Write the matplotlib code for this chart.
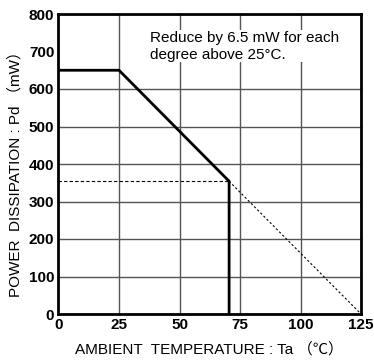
import matplotlib
matplotlib.use("Agg")
import matplotlib.pyplot as plt

# Data
solid_x = [0, 25, 70.5, 70.5]
solid_y = [650, 650, 354, 0]
dash_h_x = [0, 70.5]
dash_h_y = [354, 354]
dash_d_x = [70.5, 125]
dash_d_y = [354, 0]
xticks = [0, 25, 50, 75, 100, 125]
yticks = [0, 100, 200, 300, 400, 500, 600, 700, 800]

plt.rcParams['font.family'] = ['Liberation Sans', 'Noto Sans CJK JP', 'DejaVu Sans']

fig = plt.figure(figsize=(3.74, 3.63), dpi=100)
ax = fig.add_axes([58.5/374, 1 - 314/363, (361 - 58.5)/374, (314 - 14)/363])

ax.set_xlim(0, 125)
ax.set_ylim(0, 800)
ax.set_xticks(xticks)
ax.set_yticks(yticks)
ax.grid(True, color='#555555', linewidth=1.0)
ax.set_axisbelow(True)
# the 700 gridline is not drawn in the reference
ax.yaxis.get_gridlines()[7].set_visible(False)

ax.plot(solid_x, solid_y, color='black', linewidth=2.0, solid_joinstyle='miter', zorder=3)
ax.plot(dash_h_x, dash_h_y, color='black', linewidth=0.8, linestyle=(0, (3, 2)), zorder=3)
ax.plot(dash_d_x, dash_d_y, color='black', linewidth=0.8, linestyle=(0, (2, 2)), zorder=3)

for s in ax.spines.values():
    s.set_linewidth(2.0)

ax.tick_params(axis='both', length=0, labelsize=11, pad=3)
for lbl in ax.get_xticklabels() + ax.get_yticklabels():
    lbl.set_fontweight('bold')

ax.text(37.8, 755, "Reduce by 6.5 mW for each\ndegree above 25°C.", fontsize=11,
        va='top', ha='left', linespacing=1.25, zorder=4,
        bbox=dict(facecolor='white', edgecolor='none', pad=0.5))

ax.set_xlabel("AMBIENT  TEMPERATURE : Ta （℃）", fontsize=11)
ax.set_ylabel("POWER  DISSIPATION : Pd （mW）", fontsize=11)
ax.xaxis.set_label_coords((209 - 58.5) / 302.5, -(349 - 314) / 300, transform=ax.transAxes)
ax.yaxis.set_label_coords(-(58.5 - 15) / 302.5, (314 - 170) / 300, transform=ax.transAxes)
ax.xaxis.label.set_va('center')
ax.yaxis.label.set_va('center')

fig.savefig("out.png", dpi=100)
